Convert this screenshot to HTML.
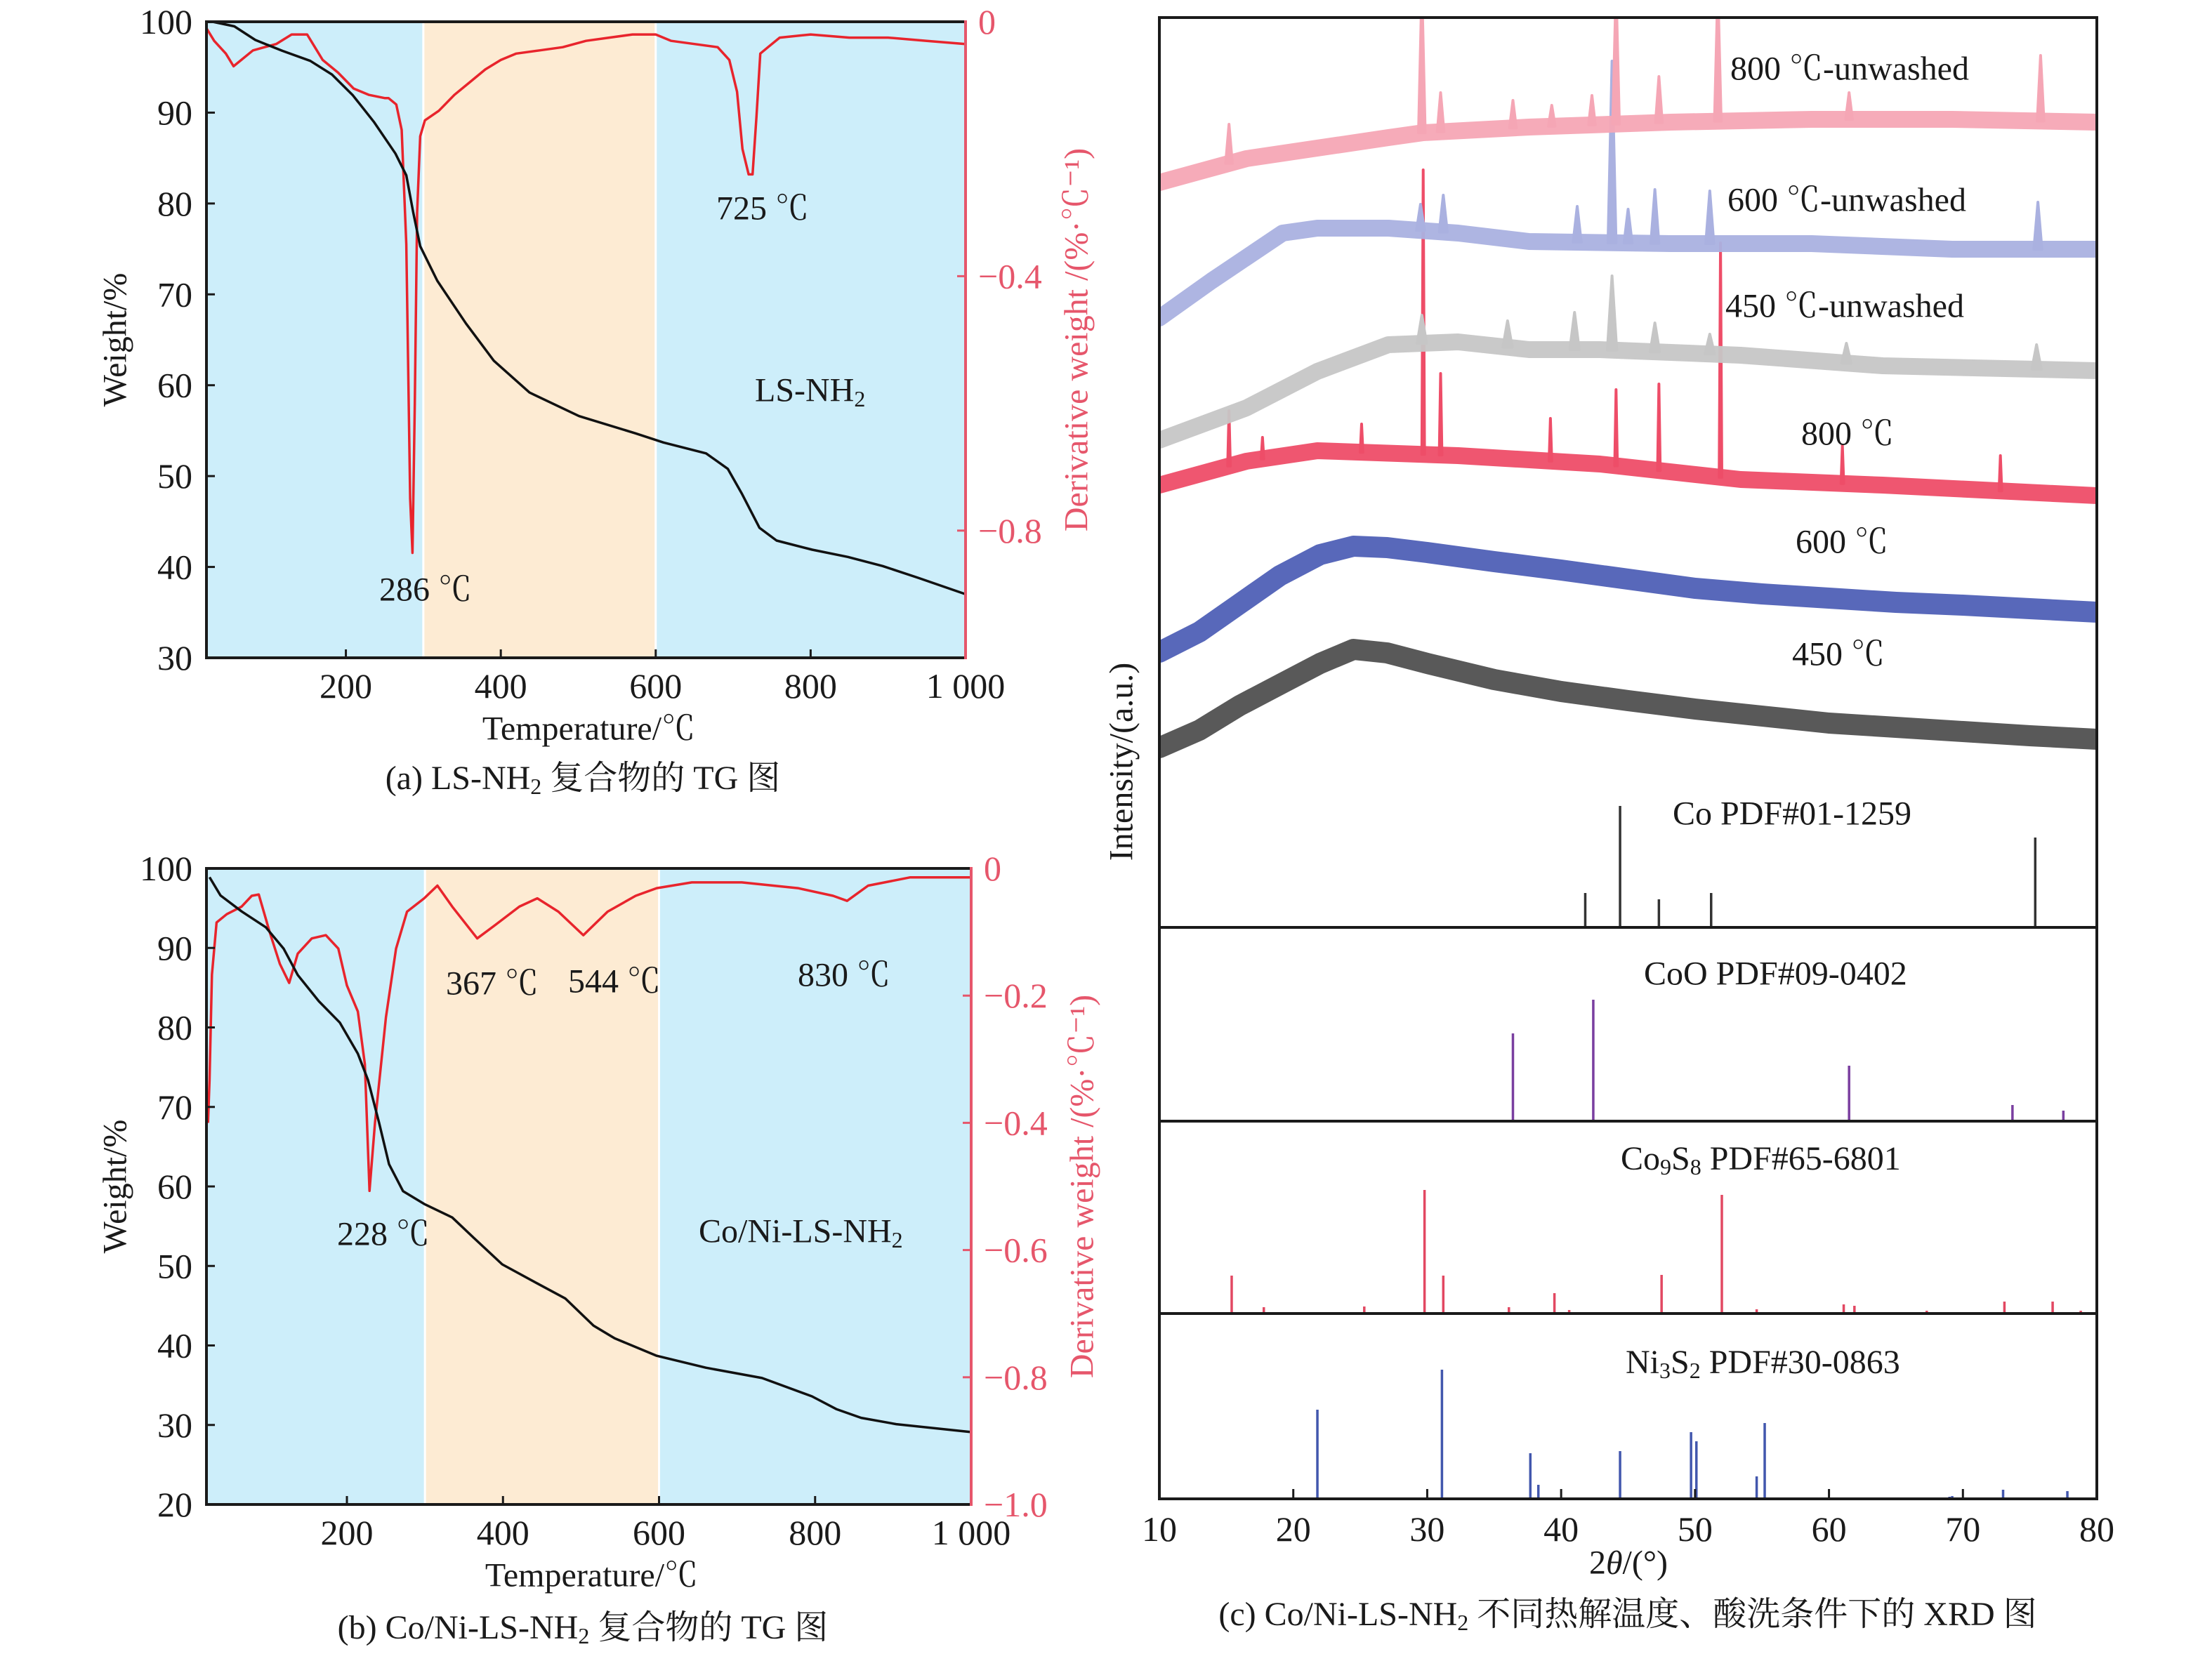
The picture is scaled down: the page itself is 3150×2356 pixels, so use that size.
<!DOCTYPE html>
<html><head><meta charset="utf-8"><style>
html,body{margin:0;padding:0;background:#fff}
svg{display:block}
text{font-family:"Liberation Serif","Noto Serif CJK SC","Noto Sans CJK SC",serif;fill:#1a1a1a}
</style></head><body>
<svg id="fig" xmlns="http://www.w3.org/2000/svg" width="3150" height="2356" viewBox="0 0 3150 2356">
<defs><clipPath id="clipC"><rect x="1651" y="25" width="1335" height="1296"/></clipPath></defs>
</svg>
<script>
// ---------- Panel (a) data ----------
const aWeightT=[28,56,83,118,154,182,209,236,264,278,287,296,318,355,391,437,501,574,610,665,693,711,734,756,802,848,893,939,1000];
const aWeightW=[100,99.5,98,96.8,95.7,94.2,91.9,89,85.5,83.1,79,75.3,71.5,66.8,62.7,59.2,56.6,54.7,53.7,52.5,50.8,48.1,44.3,42.9,41.9,41.1,40.1,38.8,37.0];
const aDtgT=[20,30,45,55,65,80,95,110,130,150,160,170,190,210,230,250,255,265,272,278,283,286,289,292,296,302,320,340,360,380,400,420,450,480,510,540,570,600,620,650,680,695,705,712,720,725,730,735,745,760,800,850,900,950,1000];
const aDtgD=[-0.01,-0.03,-0.05,-0.07,-0.06,-0.045,-0.04,-0.035,-0.02,-0.02,-0.04,-0.06,-0.08,-0.105,-0.115,-0.12,-0.12,-0.13,-0.17,-0.35,-0.75,-0.835,-0.6,-0.3,-0.18,-0.155,-0.14,-0.115,-0.095,-0.075,-0.06,-0.05,-0.045,-0.04,-0.03,-0.025,-0.02,-0.02,-0.03,-0.035,-0.04,-0.06,-0.11,-0.2,-0.24,-0.24,-0.15,-0.05,-0.04,-0.025,-0.02,-0.025,-0.025,-0.03,-0.035];
const aYTicks=[30,40,50,60,70,80,90,100];
const aRTicks=[0,-0.4,-0.8];
// ---------- Panel (b) data ----------
const bWeightT=[24,38,65,96,119,137,164,191,214,227,241,254,272,299,335,363,399,444,480,516,543,597,660,732,796,827,859,904,1000];
const bWeightW=[98.9,96.6,94.6,92.6,89.9,86.6,83.3,80.6,76.7,73.4,68.1,62.8,59.4,57.8,56.1,53.5,50.2,47.8,45.9,42.5,40.9,38.7,37.2,35.9,33.6,32.0,30.9,30.1,29.1];
const bDtgT=[22,24,27,33,46,65,78,87,101,114,126,137,155,173,189,200,214,223,229,236,250,263,277,299,316,335,367,390,421,444,471,503,534,570,597,642,706,778,823,841,868,922,1000];
const bDtgD=[-0.40,-0.333,-0.167,-0.085,-0.072,-0.06,-0.043,-0.041,-0.10,-0.15,-0.18,-0.134,-0.11,-0.105,-0.126,-0.184,-0.225,-0.308,-0.507,-0.40,-0.234,-0.126,-0.068,-0.047,-0.027,-0.06,-0.11,-0.089,-0.06,-0.047,-0.068,-0.105,-0.068,-0.043,-0.031,-0.022,-0.022,-0.031,-0.043,-0.051,-0.027,-0.014,-0.014];
const bYTicks=[20,30,40,50,60,70,80,90,100];
const bRTicks=[0,-0.2,-0.4,-0.6,-0.8,-1.0];
const tTicks=[200,400,600,800,1000];
const tTickLabels=["200","400","600","800","1 000"];
// ---------- Panel (c) data ----------
const cXTicks=[10,20,30,40,50,60,70,80];
const trace450Deg=[10,13,16,19,22,24.5,27,30,35,40,45,50,55,60,65,70,75,80];
const trace450Int=[256,281,316,346,376,396,391,376,353,336,323,311,301,291,285,279,273,268];
const trace600Deg=[10,13,16,19,22,24.5,27,30,35,40,45,50,55,60,65,70,75,80];
const trace600Int=[392,421,461,501,531,543,541,534,521,509,496,483,475,469,463,459,454,449];
const trace800Deg=[10,16.5,21.8,32.3,42.9,53.4,64,80];
const trace800Int=[630,664,679,672,660,638,630,615];
const peaks800Deg=[15.2,17.7,25.1,29.7,31.0,39.2,44.1,47.3,51.9,61.0,72.8];
const peaks800Int=[736,698,717,1079,789,725,766,774,975,687,672];
const traceU450Deg=[10,16.5,21.8,27.1,32.3,37.6,42.9,53.4,64,80];
const traceU450Int=[694,740,792,830,834,823,823,815,800,793];
const peaksU450Deg=[29.6,36.0,41.0,43.8,47.0,51.1,61.3,75.5];
const peaksU450Int=[872,864,876,928,861,845,832,830];
const traceU600Deg=[10,13.9,19.2,21.8,27.1,32.3,37.6,48.2,58.7,69.2,80];
const traceU600Int=[868,921,989,996,996,989,977,974,974,966,966];
const peaksU600Deg=[29.5,31.2,41.2,43.8,45.0,47.0,51.1,75.6];
const peaksU600Int=[1030,1043,1027,1234,1023,1051,1049,1033];
const traceU800Deg=[10,16.5,27.1,29.7,37.6,48.2,58.7,69.2,80];
const traceU800Int=[1061,1095,1125,1132,1140,1147,1151,1151,1147];
const peaksU800Deg=[15.2,29.6,31.0,36.4,39.3,42.3,44.1,47.3,51.7,61.5,75.8];
const peaksU800Int=[1144,1340,1189,1178,1171,1185,1340,1212,1340,1189,1242];
const refCoDeg=[41.8,44.4,47.3,51.2,75.4];
const refCoInt=[49,173,40,49,128];
const refCoODeg=[36.4,42.4,61.5,73.7,77.5];
const refCoOInt=[125,173,79,23,15];
const refCo9S8Deg=[15.4,17.8,25.3,29.8,31.2,36.1,39.5,40.6,44.7,47.5,52.0,54.6,61.1,61.9,67.3,73.1,76.7,78.8];
const refCo9S8Int=[54,9,10,176,54,9,29,5,2,55,169,6,13,11,4,17,17,4];
const refNi3S2Deg=[21.8,31.1,37.7,38.3,44.4,49.7,50.1,54.6,55.2,68.4,69.0,69.2,73.0,77.4,77.8];
const refNi3S2Int=[127,184,65,20,68,95,82,32,108,2,3,4,13,2,11];

const NS="http://www.w3.org/2000/svg";
const svg=document.getElementById('fig');
function el(tag,attrs,parent){const e=document.createElementNS(NS,tag);for(const k in attrs)e.setAttribute(k,attrs[k]);(parent||svg).appendChild(e);return e;}
function lin(d0,d1,r0,r1){return v=>r0+(v-d0)*(r1-r0)/(d1-d0);}
function txt(s,x,y,size,anchor,color,parent){const t=el('text',{x:x,y:y,'font-size':size,'text-anchor':anchor||'start','dominant-baseline':'central'},parent);if(color)t.setAttribute('style','fill:'+color);t.textContent=s;return t;}
function pathFrom(xs,ys,sx,sy){return xs.map((v,i)=>(i?'L':'M')+sx(v).toFixed(1)+','+sy(ys[i]).toFixed(1)).join('');}
const RED='#e8242c', RAX='#e6566b';

function tgPanel(id,L,R,T,B,wmin,rmin,wT,wW,dT,dD,yTicks,rTicks,annots){
  const g=el('g',{});
  
  
  const sx=lin(20,1000,L,R), sy=lin(wmin,100,B,T), sd=lin(rmin,0,B,T);
  const bg1=el('rect',{x:L,y:T,width:sx(300)-L,height:B-T,fill:'#cdeefa'},g);
  
  
  const bg2=el('rect',{x:sx(300),y:T,width:sx(600)-sx(300),height:B-T,fill:'#fdebd3'},g);
  
  
  const bg3=el('rect',{x:sx(600),y:T,width:R-sx(600),height:B-T,fill:'#cdeefa'},g);
  
  
  el('line',{x1:sx(300),x2:sx(300),y1:T,y2:B,stroke:'#fff','stroke-width':3},g);
  el('line',{x1:sx(600),x2:sx(600),y1:T,y2:B,stroke:'#fff','stroke-width':3},g);
  const dl=el('path',{d:pathFrom(dT,dD,sx,sd),fill:'none',stroke:RED,'stroke-width':3.5,'stroke-linejoin':'round'},g);
  
  
  const wl=el('path',{d:pathFrom(wT,wW,sx,sy),fill:'none',stroke:'#111','stroke-width':3.5,'stroke-linejoin':'round'},g);
  
  
  // axes
  el('path',{d:`M${R},${T}H${L}V${B}H${R}`,fill:'none',stroke:'#1a1a1a','stroke-width':4},g);
  el('line',{x1:R,x2:R,y1:T-2,y2:B+2,stroke:RAX,'stroke-width':4},g);
  yTicks.forEach(v=>{const y=sy(v);if(v>wmin&&v<100)el('line',{x1:L,x2:L+12,y1:y,y2:y,stroke:'#1a1a1a','stroke-width':3},g);
    const t=txt(String(v),L-20,y,50,'end',null,g);});
  rTicks.forEach(v=>{const y=sd(v);if(v<0&&v>rmin)el('line',{x1:R-12,x2:R,y1:y,y2:y,stroke:RAX,'stroke-width':3},g);
    const s=v===0?'0':'\u2212'+Math.abs(v).toFixed(1);const t=txt(s,R+18,y,50,'start',RAX,g);});
  tTicks.forEach((v,i)=>{const x=sx(v);if(v<1000)el('line',{x1:x,x2:x,y1:B,y2:B-12,stroke:'#1a1a1a','stroke-width':3},g);
    const t=txt(tTickLabels[i],x,B+40,50,'middle',null,g);});
  const xt=txt('Temperature/\u2103',(L+R)/2+4,B+101,48,'middle',null,g);
  
  const yl=txt('Weight/%',0,0,48,'middle',null,g);yl.setAttribute('transform',`translate(${L-130},${(T+B)/2}) rotate(-90)`);
  
  const yr=txt('Derivative weight /(%\u00b7\u2103\u207b\u00b9)',0,0,48,'middle',RAX,g);yr.setAttribute('transform',`translate(${R+158},${(T+B)/2}) rotate(-90)`);
  
  annots.forEach(a=>{const t=txt(a[0],a[1],a[2],48,'start',null,g);
    if(a[3]){const s=el('tspan',{'font-size':32,dy:12},t);s.textContent=a[3];}});
}
tgPanel('panel-a-tg',294,1375,31,937,30,-1.0,aWeightT,aWeightW,aDtgT,aDtgD,aYTicks,aRTicks,
  [['725 \u2103',1020,297],['286 \u2103',540,840],['LS-NH',1075,556,'2']]);
tgPanel('panel-b-tg',294,1383,1237,2143,20,-1.0,bWeightT,bWeightW,bDtgT,bDtgD,bYTicks,bRTicks,
  [['367 \u2103',635,1401],['544 \u2103',809,1398],['830 \u2103',1136,1389],['228 \u2103',480,1758],['Co/Ni-LS-NH',995,1754,'2']]);

function caption(parts,cx,y,name){const t=el('text',{x:cx,y:y,'font-size':48,'text-anchor':'middle','dominant-baseline':'central'});
  
  parts.forEach(p=>{const s=el('tspan',p[1]?{'font-size':32,dy:12}:{dy:p[2]||0},t);s.textContent=p[0];});}
caption([['(a) LS-NH'],['2',1],[' 复合物的 TG 图',0,-12]],830,1108,'caption-a');
caption([['(b) Co/Ni-LS-NH'],['2',1],[' 复合物的 TG 图',0,-12]],830,2318,'caption-b');
caption([['(c) Co/Ni-LS-NH'],['2',1],[' 不同热解温度、酸洗条件下的 XRD 图',0,-12]],2318,2299,'caption-c');

// ---------- Panel (c) ----------
const CL=1651,CR=2986,CT=25,CB=2135;
const cx=lin(10,80,CL,CR);
const cy=lin(0,1300,1321,21);
const gc=el('g',{});


const gt=el('g',{'clip-path':'url(#clipC)'},gc);
function interp(xs,ys,x){for(let i=1;i<xs.length;i++){if(x<=xs[i]){const f=(x-xs[i-1])/(xs[i]-xs[i-1]);return ys[i-1]+f*(ys[i]-ys[i-1]);}}return ys[ys.length-1];}
function trace(name,deg,ints,pdeg,pint,color,w,hw){
  const base=el('path',{d:pathFrom(deg,ints,cx,cy),fill:'none',stroke:color,'stroke-width':w,'stroke-linejoin':'round','stroke-linecap':'round',opacity:0.95},gt);
  
  
  pdeg.forEach((d,i)=>{const b=interp(deg,ints,d);
    const p=el('path',{d:`M${cx(d-hw)},${cy(b)}L${cx(d)},${cy(pint[i])}L${cx(d+hw)},${cy(b)}Z`,fill:color,stroke:color,'stroke-width':4,'stroke-linejoin':'round'},gt);
    
    });
}
trace('trace-450C',trace450Deg,trace450Int,[],[], '#505050',30,0.1);
trace('trace-600C',trace600Deg,trace600Int,[],[], '#4f60b6',30,0.1);
trace('trace-800C',trace800Deg,trace800Int,peaks800Deg,peaks800Int,'#ee4d68',24,0.1);
trace('trace-450C-unwashed',traceU450Deg,traceU450Int,peaksU450Deg,peaksU450Int,'#c6c6c6',24,0.35);
trace('trace-600C-unwashed',traceU600Deg,traceU600Int,peaksU600Deg,peaksU600Int,'#aab1e0',24,0.3);
trace('trace-800C-unwashed',traceU800Deg,traceU800Int,peaksU800Deg,peaksU800Int,'#f5a6b5',24,0.25);
// reference sticks
function sticks(name,deg,ints,base,color){deg.forEach((d,i)=>{const l=el('line',{x1:cx(d),x2:cx(d),y1:base,y2:base-ints[i],stroke:color,'stroke-width':3.5},gc);
  });}
sticks('ref-co',refCoDeg,refCoInt,1321,'#333');
sticks('ref-coo',refCoODeg,refCoOInt,1597,'#7a3fa0');
sticks('ref-co9s8',refCo9S8Deg,refCo9S8Int,1871,'#e24862');
sticks('ref-ni3s2',refNi3S2Deg,refNi3S2Int,2135,'#4257ad');
// frame and dividers
el('rect',{x:CL,y:CT,width:CR-CL,height:CB-CT,fill:'none',stroke:'#1a1a1a','stroke-width':4},gc);
[1321,1597,1871].forEach(y=>el('line',{x1:CL,x2:CR,y1:y,y2:y,stroke:'#1a1a1a','stroke-width':4},gc));
cXTicks.forEach(v=>{const x=cx(v);if(v>10&&v<80)el('line',{x1:x,x2:x,y1:CB,y2:CB-14,stroke:'#1a1a1a','stroke-width':3},gc);
  const t=txt(String(v),x,2178,50,'middle',null,gc);});
const xtc=el('text',{x:2319,y:2226,'font-size':48,'text-anchor':'middle','dominant-baseline':'central'},gc);

xtc.innerHTML='2<tspan font-style="italic">θ</tspan>/(°)';
const ytc=txt('Intensity/(a.u.)',0,0,48,'middle',null,gc);ytc.setAttribute('transform','translate(1597,1085) rotate(-90)');

[['800 \u2103-unwashed',2464,98],['600 \u2103-unwashed',2460,285],['450 \u2103-unwashed',2457,436],['800 \u2103',2565,618],['600 \u2103',2557,772],['450 \u2103',2552,932],['Co PDF#01-1259',2382,1159],['CoO PDF#09-0402',2341,1387]].forEach(a=>{
  const t=txt(a[0],a[1],a[2],48,'start',null,gc);});
function subLabel(parts,x,y){const t=el('text',{x:x,y:y,'font-size':48,'dominant-baseline':'central'},gc);
  
  parts.forEach(p=>{const s=el('tspan',p[1]?{'font-size':32,dy:p[1]}:{dy:p[2]||0},t);s.textContent=p[0];});}
subLabel([['Co'],['9',12],['S',0,-12],['8',12],[' PDF#65-6801',0,-12]],2308,1650);
subLabel([['Ni'],['3',12],['S',0,-12],['2',12],[' PDF#30-0863',0,-12]],2315,1940);
</script>
</body></html>
